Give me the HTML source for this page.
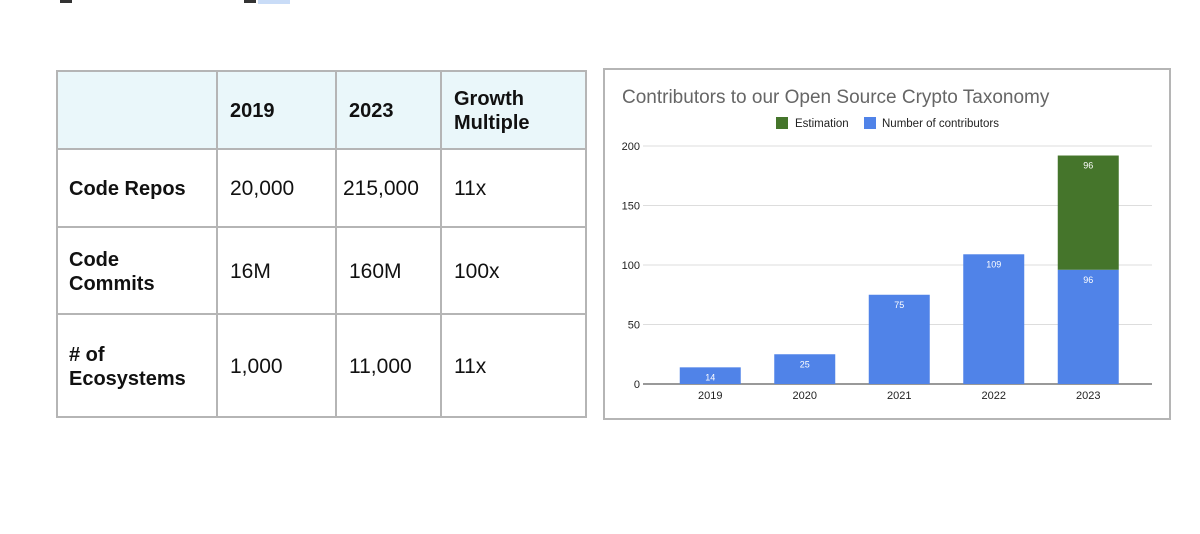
<!DOCTYPE html>
<html><head><meta charset="utf-8"><style>
body{margin:0;width:1200px;height:534px;background:#fff;position:relative;overflow:hidden;font-family:"Liberation Sans",Arial,sans-serif}
.a{position:absolute}
.cell{position:absolute;box-sizing:border-box;display:flex;align-items:center;padding-left:13px;padding-top:2px;font-size:21px;color:#111;line-height:24px}
.b{font-weight:bold;font-size:20px}
</style></head><body>
<div class="a" style="left:60px;top:0;width:12px;height:3px;background:#333"></div>
<div class="a" style="left:244px;top:0;width:12px;height:3px;background:#333"></div>
<div class="a" style="left:258px;top:0;width:32px;height:4px;background:#c9dcf7"></div>

<div class="a" style="left:56px;top:70px;width:531px;height:348px;border:2px solid #b5b5b5;box-sizing:border-box">
</div>
<div class="a" style="left:58px;top:72px;width:527px;height:77px;background:#eaf7fa"></div>
<svg class="a" style="left:0;top:0" width="600" height="430">
<g stroke="#b5b5b5" stroke-width="2">
<line x1="217" y1="70" x2="217" y2="418"/><line x1="336" y1="70" x2="336" y2="418"/><line x1="441" y1="70" x2="441" y2="418"/>
<line x1="56" y1="149" x2="587" y2="149"/><line x1="56" y1="227" x2="587" y2="227"/><line x1="56" y1="314" x2="587" y2="314"/>
</g></svg>
<div class="cell b" style="left:217px;top:70px;width:119px;height:79px">2019</div>
<div class="cell b" style="left:336px;top:70px;width:105px;height:79px">2023</div>
<div class="cell b" style="left:441px;top:70px;width:146px;height:79px">Growth<br>Multiple</div>
<div class="cell b" style="left:56px;top:149px;width:161px;height:78px">Code Repos</div>
<div class="cell" style="left:217px;top:149px;width:119px;height:78px">20,000</div>
<div class="cell" style="left:336px;top:149px;width:105px;height:78px;padding-left:7px">215,000</div>
<div class="cell" style="left:441px;top:149px;width:146px;height:78px">11x</div>
<div class="cell b" style="left:56px;top:227px;width:161px;height:87px">Code<br>Commits</div>
<div class="cell" style="left:217px;top:227px;width:119px;height:87px">16M</div>
<div class="cell" style="left:336px;top:227px;width:105px;height:87px">160M</div>
<div class="cell" style="left:441px;top:227px;width:146px;height:87px">100x</div>
<div class="cell b" style="left:56px;top:314px;width:161px;height:104px">#&nbsp;of<br>Ecosystems</div>
<div class="cell" style="left:217px;top:314px;width:119px;height:104px">1,000</div>
<div class="cell" style="left:336px;top:314px;width:105px;height:104px">11,000</div>
<div class="cell" style="left:441px;top:314px;width:146px;height:104px">11x</div>

<svg id="chart" class="a" style="left:0;top:0" width="1200" height="534">
<rect x="604" y="69" width="566" height="350" fill="#fff" stroke="#b5b5b5" stroke-width="2"/>
<text x="622" y="103" font-size="19" fill="#666" font-family="Liberation Sans, sans-serif">Contributors to our Open Source Crypto Taxonomy</text>
<rect x="776" y="117" width="12" height="12" fill="#45752b"/>
<text x="795" y="127" font-size="11.5" fill="#222">Estimation</text>
<rect x="864" y="117" width="12" height="12" fill="#5083e8"/>
<text x="882" y="127" font-size="11.5" fill="#222">Number of contributors</text>
<g id="plot"></g>
</svg>
<script>
const categories=["2019","2020","2021","2022","2023"];
const contributors=[14,25,75,109,96];
const estimation=[0,0,0,0,96];
const yTicks=[0,50,100,150,200];
const NS="http://www.w3.org/2000/svg";
const g=document.getElementById('plot');
const x0=663,step=94.5,bw=61,yBase=384,yTop=146,yMax=200;
const y=v=>yBase-(v/yMax)*(yBase-yTop);
const xc=i=>x0+step*(i+0.5);
function mk(tag,attrs){const e=document.createElementNS(NS,tag);for(const k in attrs)e.setAttribute(k,attrs[k]);g.appendChild(e);return e;}
yTicks.forEach(t=>{
  const l=mk('line',{x1:643,x2:1152,y1:y(t),y2:y(t),stroke:t===0?'#333':'#ddd','stroke-width':1});
  
  
  const tx=mk('text',{x:640,y:y(t)+4,'text-anchor':'end','font-size':11,fill:'#222'});
  tx.textContent=t;
  
  
});
categories.forEach((c,i)=>{
  const v=contributors[i],e=estimation[i],cx=xc(i);
  const r=mk('rect',{x:cx-bw/2,y:y(v),width:bw,height:yBase-y(v),fill:'#5083e8'});
  
  
  const lt=mk('text',{x:cx,y:y(v)+13,'text-anchor':'middle','font-size':9,fill:'#fff'});
  lt.textContent=v;
  
  
  if(e>0){
    const r2=mk('rect',{x:cx-bw/2,y:y(v+e),width:bw,height:y(v)-y(v+e),fill:'#45752b'});
    
    
    const l2=mk('text',{x:cx,y:y(v+e)+13,'text-anchor':'middle','font-size':9,fill:'#fff'});
    l2.textContent=e;
    
    
  }
  const xt=mk('text',{x:cx,y:399,'text-anchor':'middle','font-size':11,fill:'#222'});
  xt.textContent=c;
  
  
});
</script>
</body></html>
